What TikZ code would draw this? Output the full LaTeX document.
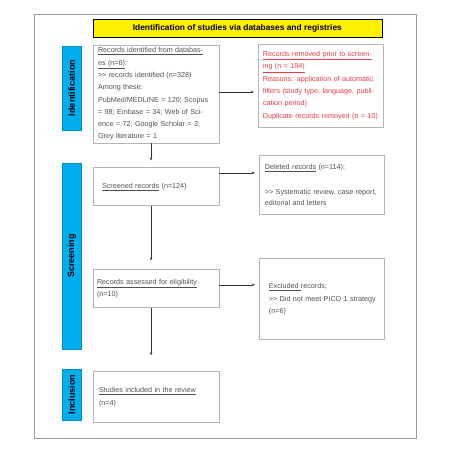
\documentclass[tikz,border=0pt]{standalone}
\usepackage{fontspec}
\setmainfont{Liberation Sans}
\usetikzlibrary{positioning,calc,arrows.meta}
\definecolor{prismayellow}{HTML}{FFEF00}
\definecolor{prismablue}{HTML}{00AEEF}
\definecolor{prismared}{HTML}{EE3A46}
\definecolor{boxgray}{HTML}{B4B4B4}
\definecolor{framegray}{HTML}{9A9A9A}
\definecolor{textgray}{HTML}{505050}
\newcommand{\gtgt}{>\kern0pt>}

\begin{document}
\begin{tikzpicture}[x=1pt,y=-1pt]
		\tikzset{
			box/.style={
					draw=boxgray, line width=0.9pt,
					minimum width=126pt, text width=116pt,
					inner xsep=5pt, inner ysep=0pt, align=left,
					text=textgray, font=\fontsize{7.2}{12.3}\selectfont,
				},
			redbox/.style={box, minimum width=125pt, inner xsep=4pt, text width=117pt, text=prismared},
			stagebar/.style={
					fill=prismablue, draw=prismablue!80!black, line width=0.3pt,
					rotate=90, minimum height=18.5pt, inner sep=0pt,
					font=\fontsize{9}{10}\selectfont\bfseries,
				},
			titlebox/.style={
					fill=prismayellow, draw=black, line width=0.6pt,
					minimum width=289pt, minimum height=18pt, inner sep=0pt,
					font=\fontsize{8.4}{10}\selectfont\bfseries,
				},
			flow/.style={draw=black!80, line width=0.6pt, -{Stealth[length=3pt,width=2.6pt]}},
		}
		\useasboundingbox (0,0) rectangle (450,450);
		\draw[framegray, line width=0.9pt] (34,14) rectangle (416,438);
		%
		\node[box, minimum height=98pt] (recid) at (156,94) {%
			\underline{Records identified from databas-}\\
			\underline{es (n=6)}:\\
			\gtgt{} records identified (n=328)\\
			Among these:\\
			PubMed/MEDLINE = 120; Scopus\\
			= 98; Embase = 34; Web of Sci-\\
			ence = 72; Google Scholar = 3;\\
			Grey literature = 1};
		\node[titlebox, anchor=south west] at ($(recid.north west)+(0,-7)$) (title)
			{Identification of studies via databases and registries};
		\node[redbox, minimum height=83pt, right=39pt of recid, yshift=8.5pt] (removed) {%
			\underline{Records removed prior to screen-}\\
			\underline{ing (n = 194)}\\
			Reasons: application of automatic\\
			filters (study type, language, publi-\\
			cation period)\\
			Duplicate records removed (n = 10)};
		%
		\node[box, minimum height=38pt, inner xsep=9pt, text width=108pt, below=24pt of recid] (screened)
			{\underline{Screened records} (n=124)};
		\node[redbox, text=textgray, minimum height=59pt, inner xsep=5pt, text width=115pt,
			font=\fontsize{7.2}{11}\selectfont, right=40pt of screened, yshift=1.5pt] (deleted) {%
			\underline{Deleted records} (n=114):\\[14pt]
			\gtgt{} Systematic review, case report,\\
			editorial and letters};
		\node[box, minimum height=38pt, inner xsep=4pt, text width=118pt, below=63pt of screened] (eligible) {%
			\underline{Records assessed for eligibility}\\
			(n=10)};
		\node[redbox, text=textgray, minimum height=81pt, inner xsep=9pt, text width=107pt,
			right=40pt of eligible, yshift=-10.5pt] (excluded) {%
			\underline{Excluded }records;\\
			\gtgt{} Did not meet PICO 1 strategy\\
			(n=6)};
		\node[box, minimum height=51pt, inner xsep=6pt, text width=114pt, below=63pt of eligible] (included) {%
			\underline{Studies included in the review}\\
			(n=4)};
		%
		\node[stagebar, minimum width=84pt] at (71.75,88) (identbar) {Identification};
		\node[stagebar, minimum width=186pt] at (71.75,256) (screenbar) {Screening};
		\node[stagebar, minimum width=51pt] at (71.75,394.5) (inclbar) {Inclusion};
		%
		\draw[flow, shorten >=4.5pt] ([yshift=2pt]recid.east) -- ([yshift=2pt]recid.east -| removed.west);
		\draw[flow, shorten >=4.5pt] ([yshift=14pt]screened.east) -- ([yshift=14pt]screened.east -| deleted.west);
		\draw[flow, shorten >=4.5pt] ([yshift=4pt]eligible.east) -- ([yshift=4pt]eligible.east -| excluded.west);
		\draw[flow, shorten >=7pt] ([xshift=-5pt]recid.south) -- ([xshift=-5pt]recid.south |- screened.north);
		\draw[flow, shorten >=9pt] ([xshift=-5pt]screened.south) -- ([xshift=-5pt]screened.south |- eligible.north);
		\draw[flow, shorten >=16pt] ([xshift=-5pt]eligible.south) -- ([xshift=-5pt]eligible.south |- included.north);
	\end{tikzpicture}
\end{document}
